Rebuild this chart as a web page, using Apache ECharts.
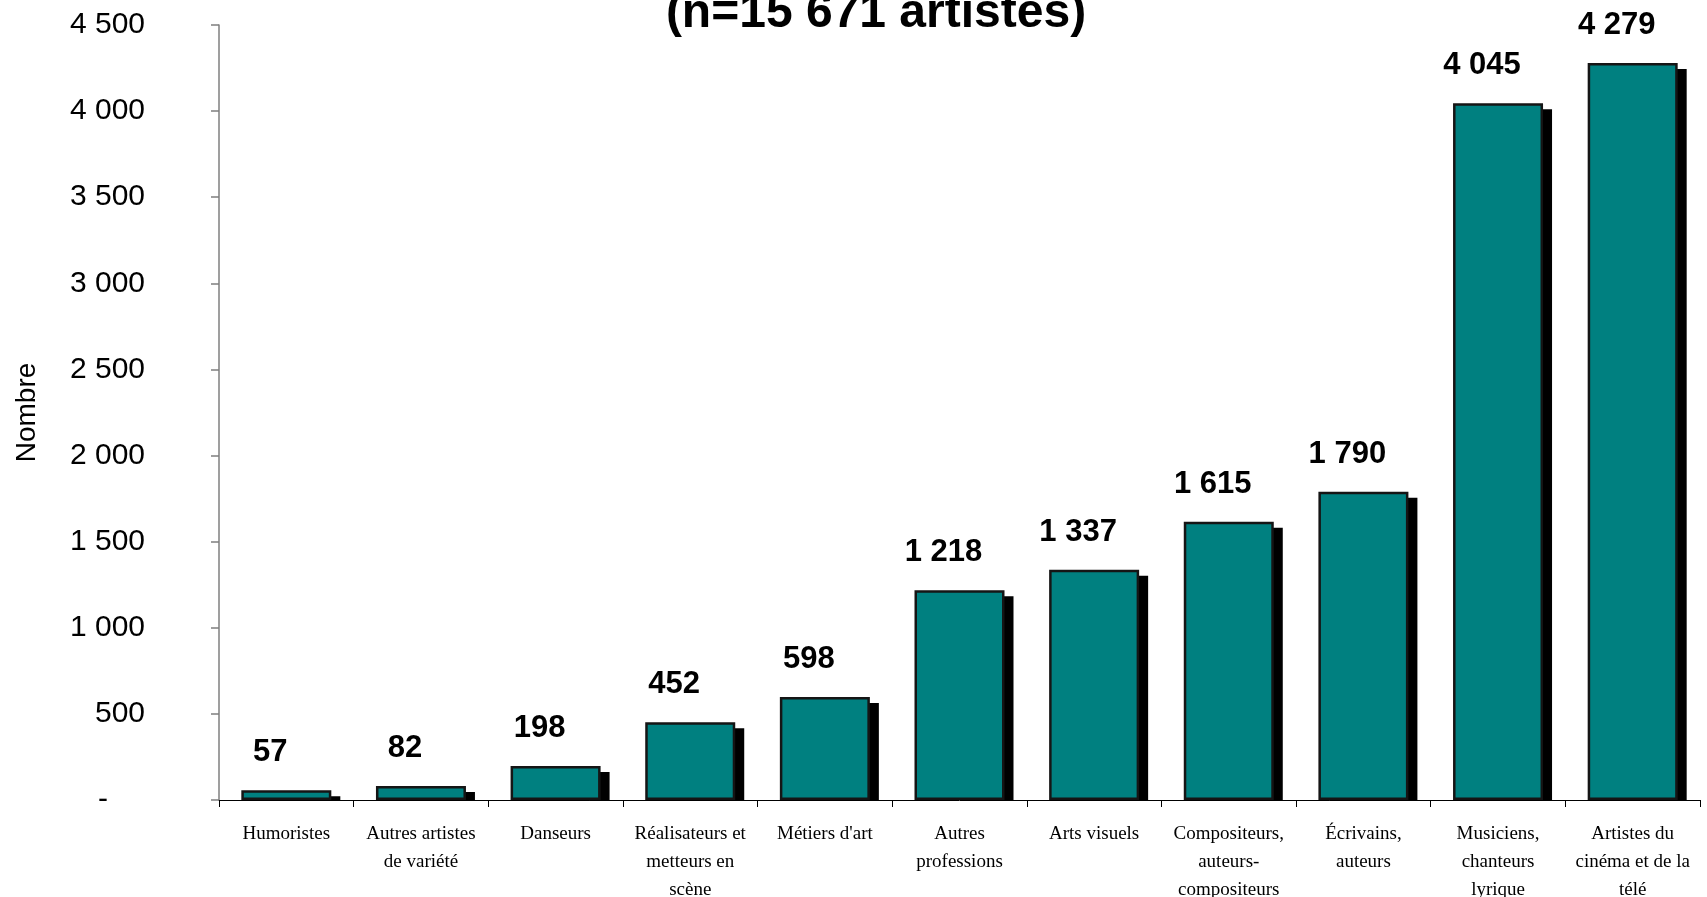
<!DOCTYPE html>
<html lang="fr">
<head>
<meta charset="utf-8">
<title>Artistes par profession</title>
<script src="https://cdn.jsdelivr.net/npm/echarts@6/dist/echarts.min.js"></script>
<style>
  html, body { margin: 0; padding: 0; background: #ffffff; }
  #chart { width: 1707px; height: 897px; }
</style>
</head>
<body>
<div id="chart"></div>
<script>
// Professions, ordered from smallest to largest headcount
const categories = [
  'Humoristes',
  'Autres artistes\nde variété',
  'Danseurs',
  'Réalisateurs et\nmetteurs en\nscène',
  "Métiers d'art",
  'Autres\nprofessions',
  'Arts visuels',
  'Compositeurs,\nauteurs-\ncompositeurs',
  'Écrivains,\nauteurs',
  'Musiciens,\nchanteurs\nlyrique',
  'Artistes du\ncinéma et de la\ntélé'
];

// Number of artists per profession (total 15 671)
const counts = [57, 82, 198, 452, 598, 1218, 1337, 1615, 1790, 4045, 4279];

// Value axis ticks
const yTicks = [0, 500, 1000, 1500, 2000, 2500, 3000, 3500, 4000, 4500];

const subtitle = '(n=15 671 artistes)';

// French-style thousands grouping: 4279 -> "4 279"
function frNumber(v) {
  return String(Math.round(v)).replace(/\B(?=(\d{3})+(?!\d))/g, ' ');
}

const BAR_WIDTH = 90;
const SHADOW_DX = 9;
const SHADOW_DY = 6;

const chart = echarts.init(document.getElementById('chart'), null, { renderer: 'canvas' });

chart.setOption({
  backgroundColor: '#ffffff',
  animation: false,
  graphic: [{
    type: 'text',
    x: 876,
    y: -10,
    style: {
      text: subtitle,
      font: 'bold 48px "Liberation Sans", Arial, sans-serif',
      fill: '#000000',
      textAlign: 'center',
      textVerticalAlign: 'top'
    }
  }],
  grid: {
    left: 219, right: 7, top: 25, bottom: 97,
    containLabel: false,
    outerBoundsMode: 'none'
  },
  xAxis: {
    type: 'category',
    data: categories,
    boundaryGap: true,
    axisLine: { lineStyle: { color: '#000000', width: 1 } },
    axisTick: { show: true, length: 7, lineStyle: { color: '#000000' } },
    axisLabel: {
      interval: 0,
      margin: 20,
      color: '#000000',
      fontFamily: '"Liberation Serif", "Times New Roman", serif',
      fontSize: 19,
      lineHeight: 28,
      align: 'center'
    },
    splitLine: { show: false }
  },
  yAxis: {
    type: 'value',
    min: yTicks[0],
    max: yTicks[yTicks.length - 1],
    interval: yTicks[1] - yTicks[0],
    name: 'Nombre',
    nameLocation: 'middle',
    nameRotate: 90,
    nameGap: 178,
    nameTextStyle: {
      color: '#000000',
      fontFamily: '"Liberation Sans", Arial, sans-serif',
      fontSize: 28
    },
    axisLine: { show: true, lineStyle: { color: '#7f7f7f', width: 1.5 } },
    axisTick: { show: true, inside: false, length: 8, lineStyle: { color: '#7f7f7f', width: 1.5 } },
    axisLabel: {
      margin: 74,
      color: '#000000',
      fontFamily: '"Liberation Sans", Arial, sans-serif',
      fontSize: 30,
      formatter: function (v) {
        return v === 0 ? '{z|-}' : frNumber(v);
      },
      rich: {
        z: {
          fontFamily: '"Liberation Sans", Arial, sans-serif',
          fontSize: 30,
          color: '#000000',
          padding: [0, 37, 0, 0]
        }
      }
    },
    splitLine: { show: false }
  },
  series: [
    {
      // Drop shadow behind each bar, stopping at the baseline
      type: 'custom',
      z: 1,
      silent: true,
      data: counts.map(function (v, i) { return [i, v]; }),
      renderItem: function (params, api) {
        const top = api.coord([api.value(0), api.value(1)]);
        const base = api.coord([api.value(0), 0]);
        const h = Math.max(base[1] - top[1] - SHADOW_DY, 0);
        return {
          type: 'rect',
          shape: {
            x: top[0] - BAR_WIDTH / 2 + SHADOW_DX,
            y: top[1] + SHADOW_DY,
            width: BAR_WIDTH,
            height: h
          },
          style: { fill: '#000000' }
        };
      }
    },
    {
      type: 'bar',
      z: 3,
      data: counts,
      barWidth: BAR_WIDTH,
      itemStyle: {
        color: '#008080',
        borderColor: '#151515',
        borderWidth: 2.5
      },
      label: {
        show: true,
        position: 'top',
        distance: 22,
        offset: [-16, 0],
        color: '#000000',
        fontFamily: '"Liberation Sans", Arial, sans-serif',
        fontWeight: 'bold',
        fontSize: 31,
        formatter: function (p) { return frNumber(p.value); }
      }
    }
  ]
});
</script>
</body>
</html>
